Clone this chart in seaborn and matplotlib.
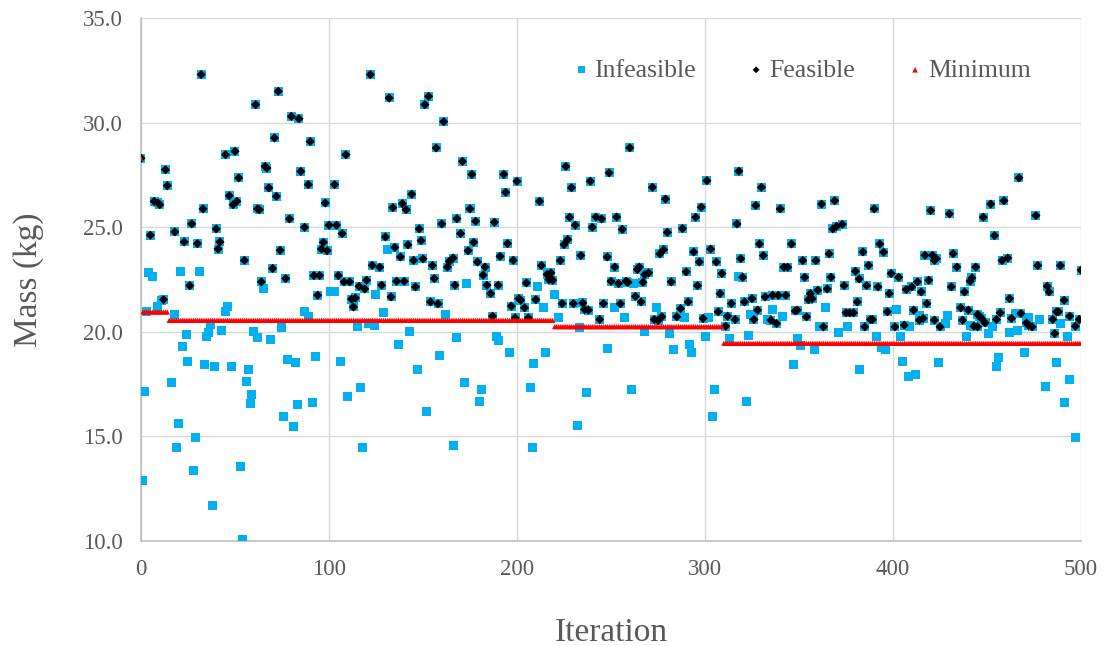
import numpy as np
import pandas as pd
import matplotlib
matplotlib.use("Agg")
import matplotlib.pyplot as plt
import seaborn as sns

# feasible designs (iteration, mass in kg)
feas_iter = [0, 32, 61, 45, 50, 13, 14, 52, 7, 9, 10, 47, 49, 51, 33, 62, 27, 5, 18, 40, 23, 30, 42, 41, 55, 26, 12,
             122, 73, 80, 84, 71, 90, 109, 66, 67, 85, 89, 103, 68, 72, 63, 98, 79, 87, 100, 104, 107, 97, 96, 99,
             74, 70, 77, 64, 92, 95, 105, 94, 108, 111, 116, 119, 120, 123, 127, 112, 114, 113,
             132, 151, 153, 161, 157, 171, 176, 144, 134, 139, 141, 175, 168, 178, 160, 188, 130, 148, 149, 170,
             177, 135, 142, 138, 174, 145, 150, 155, 163, 164, 166, 179, 183, 182, 191, 128, 136, 140, 146, 156,
             167, 184, 186, 190, 133, 154, 158, 187,
             193, 200, 194, 212, 226, 229, 239, 249, 228, 231, 240, 242, 245, 253, 195, 225, 227, 198, 234, 248,
             252, 223, 213, 216, 218, 217, 219, 250, 254, 205, 197, 201, 202, 204, 210, 224, 230, 235, 236, 238,
             246, 199, 206, 244,
             260, 272, 279, 301, 318, 256, 295, 298, 280, 288, 317, 276, 278, 294, 297, 303, 306, 309, 264, 265,
             270, 268, 290, 258, 259, 267, 282, 296, 308, 255, 263, 266, 287, 291, 314, 273, 275, 277, 285, 299,
             307, 312, 311, 316,
             330, 327, 340, 362, 369, 368, 370, 373, 329, 331, 346, 366, 319, 352, 359, 342, 344, 320, 353, 367,
             374, 380, 382, 360, 365, 356, 355, 357, 321, 325, 332, 336, 339, 343, 349, 348, 328, 326, 335, 338,
             354, 363, 375, 377, 379, 381,
             390, 420, 430, 393, 395, 384, 387, 399, 403, 417, 421, 422, 423, 432, 434, 444, 442, 441, 419, 386,
             392, 407, 410, 413, 415, 398, 431, 438, 418, 411, 436, 440, 397, 388, 389, 385, 401, 406, 416, 414,
             422, 425, 437, 445, 446,
             467, 452, 459, 448, 476, 454, 458, 461, 477, 489, 500, 482, 483, 491, 462, 445, 447, 449, 443, 457,
             455, 463, 468, 471, 472, 474, 485, 487, 488, 494, 499, 497, 486]
feas_mass = [28.3, 32.3, 30.86, 28.47, 28.63, 27.75, 26.99, 27.36, 26.24, 26.16, 26.08, 26.51, 26.08, 26.24, 25.88,
             25.88, 25.16, 24.62, 24.78, 24.92, 24.30, 24.22, 24.30, 23.96, 23.42, 22.21, 21.54,
             32.3, 31.5, 30.3, 30.19, 29.27, 29.1, 28.47, 27.91, 27.83, 27.67, 27.04, 27.04, 26.88, 26.48, 25.84,
             26.16, 25.4, 25.0, 25.1, 25.1, 24.7, 24.28, 23.96, 23.88, 23.9, 23.03, 22.55, 22.39, 22.69, 22.69,
             22.69, 21.75, 22.39, 22.39, 22.18, 22.05, 22.47, 23.18, 23.09, 21.57, 21.62, 21.19,
             31.18, 30.86, 31.26, 30.05, 28.79, 28.15, 27.53, 26.58, 25.94, 26.13, 25.84, 25.88, 25.41, 25.29,
             25.16, 25.24, 24.54, 24.92, 24.36, 24.7, 24.28, 24.04, 24.16, 23.58, 23.88, 23.42, 23.49, 23.17,
             23.1, 23.37, 23.53, 23.34, 23.1, 22.71, 23.61, 22.23, 22.42, 22.42, 22.15, 22.55, 22.23, 22.23,
             21.83, 22.23, 21.67, 21.43, 21.34, 20.75,
             27.53, 27.2, 26.67, 26.24, 27.91, 26.89, 27.2, 27.6, 25.48, 25.1, 25.0, 25.49, 25.4, 25.49, 24.22,
             24.17, 24.41, 23.42, 23.65, 23.58, 23.1, 23.41, 23.17, 22.74, 22.82, 22.5, 22.47, 22.42, 22.31,
             22.34, 21.23, 21.59, 21.51, 21.15, 21.54, 21.35, 21.35, 21.38, 21.07, 21.04, 21.35, 20.67, 20.67,
             20.59,
             28.8, 26.91, 26.35, 27.23, 27.68, 24.9, 25.48, 25.96, 24.76, 24.94, 25.16, 23.73, 23.93, 23.82,
             23.34, 23.96, 23.34, 22.79, 22.98, 23.1, 22.82, 22.74, 22.87, 22.42, 22.37, 22.37, 22.39, 22.21,
             21.83, 21.34, 21.7, 21.43, 21.11, 21.43, 21.35, 20.59, 20.54, 20.72, 20.72, 20.64, 20.96, 20.75,
             20.27, 20.59,
             26.91, 26.04, 25.88, 26.11, 26.27, 24.92, 25.05, 25.14, 24.2, 23.65, 24.2, 23.73, 23.5, 23.41,
             23.41, 23.09, 23.09, 22.61, 22.61, 22.61, 22.21, 22.9, 22.53, 21.99, 22.05, 21.83, 21.54, 21.58,
             21.43, 21.59, 21.67, 21.75, 21.75, 21.75, 21.04, 21.0, 21.04, 20.59, 20.56, 20.4, 20.72, 20.24,
             20.91, 20.91, 20.91, 21.43,
             25.88, 25.8, 25.64, 24.2, 23.81, 23.82, 23.18, 22.79, 22.61, 23.66, 23.66, 23.42, 23.5, 23.74,
             23.1, 23.1, 22.58, 22.42, 22.47, 22.21, 22.15, 22.02, 22.15, 22.39, 21.91, 21.83, 22.15, 21.91,
             21.35, 21.04, 21.15, 21.04, 20.96, 20.59, 20.59, 20.24, 20.24, 20.32, 20.64, 20.56, 20.56, 20.24,
             20.56, 20.24, 20.75,
             27.36, 26.11, 26.27, 25.48, 25.56, 24.6, 23.41, 23.53, 23.17, 23.17, 22.95, 22.18, 21.91, 21.51,
             21.59, 20.83, 20.64, 20.43, 20.27, 20.91, 20.59, 20.64, 20.88, 20.43, 20.32, 20.24, 20.59, 20.96,
             20.96, 20.75, 20.59, 20.27, 19.92]

# infeasible designs
infeas_iter = [3, 4, 6, 21, 31, 9, 11, 18, 45, 46, 37, 35, 36, 24, 43, 60, 62, 22, 25, 34, 39, 48, 57, 56, 16, 2,
               59, 58, 20, 29, 19, 53, 28, 1, 38, 54,
               65, 101, 103, 87, 89, 125, 69, 75, 115, 121, 124, 78, 82, 93, 106, 117, 110, 83, 91, 76, 81, 118,
               131, 173, 129, 162, 143, 137, 168, 189, 190, 159, 147, 172, 181, 180, 152, 166,
               211, 220, 214, 252, 222, 196, 215, 248, 209, 207, 237, 232, 208, 233,
               262, 318, 257, 274, 289, 302, 268, 281, 300, 313, 283, 292, 293, 261, 305, 304,
               324, 336, 333, 341, 364, 361, 376, 371, 323, 349, 351, 358, 347, 382, 322,
               402, 414, 429, 428, 441, 409, 391, 404, 439, 394, 396, 405, 424, 408, 412,
               451, 453, 462, 466, 465, 472, 478, 489, 493, 470, 456, 455, 487, 481, 494, 491, 497]
infeas_mass = [20.95, 22.85, 22.63, 22.9, 22.9, 21.23, 21.5, 20.83, 20.99, 21.23, 20.35, 19.79, 19.95, 19.86,
               20.08, 20.03, 19.71, 19.32, 18.6, 18.44, 18.36, 18.36, 18.2, 17.64, 17.6, 17.17, 17.0, 16.56,
               15.6, 14.95, 14.49, 13.54, 13.38, 12.9, 11.7, 10.08,
               22.05, 21.91, 21.94, 20.96, 20.75, 21.78, 19.62, 20.19, 20.27, 20.4, 20.32, 18.68, 18.52, 18.84,
               18.6, 17.33, 16.93, 16.53, 16.61, 15.97, 15.49, 14.49,
               23.96, 22.31, 20.91, 20.83, 20.0, 19.4, 19.71, 19.79, 19.6, 18.89, 18.2, 17.6, 17.25, 16.69,
               16.21, 14.57,
               22.18, 21.77, 21.15, 21.15, 20.7, 19.0, 19.0, 19.22, 18.5, 17.33, 17.12, 15.53, 14.49, 20.19,
               22.31, 22.63, 20.67, 21.15, 20.67, 20.67, 20.03, 19.9, 19.79, 19.67, 19.16, 19.38, 19.0, 17.25,
               17.25, 15.97,
               20.83, 21.07, 20.59, 20.75, 21.15, 20.27, 20.27, 19.95, 19.82, 19.67, 19.36, 19.16, 18.44, 18.2,
               16.69,
               21.07, 20.8, 20.8, 20.4, 20.32, 20.24, 19.79, 19.79, 19.79, 19.24, 19.16, 18.6, 18.52, 17.88,
               17.96,
               19.92, 20.27, 19.98, 20.08, 20.88, 20.7, 20.59, 20.4, 19.79, 19.0, 18.76, 18.36, 18.52, 17.4,
               17.72, 16.61, 14.97]

# running minimum: first iteration of each level and its value
min_start = [0, 1, 15, 220, 310]
min_level = [28.3, 20.95, 20.55, 20.25, 19.45]

iters = np.arange(0, 501)
min_vals = np.array(min_level)[np.searchsorted(min_start, iters, side="right") - 1]

df_all = pd.DataFrame({"Iteration": infeas_iter + feas_iter, "Mass": infeas_mass + feas_mass})
df_feas = pd.DataFrame({"Iteration": feas_iter, "Mass": feas_mass})
df_min = pd.DataFrame({"Iteration": iters, "Mass": min_vals})

sns.set_style("white")
plt.rcParams["font.family"] = ["Liberation Serif", "DejaVu Serif"]
grey = "#595959"

fig = plt.figure(figsize=(11.04, 6.46), dpi=100)
ax = fig.add_axes([0.1277, 0.1625, 0.8515, 0.8095])

# Excel style: every design is a blue square, feasible ones get a black diamond on top
sns.scatterplot(data=df_all, x="Iteration", y="Mass", marker="s", s=42, color="#00b0f0",
                edgecolor="none", linewidth=0, ax=ax, label="Infeasible", zorder=3)
sns.scatterplot(data=df_feas, x="Iteration", y="Mass", marker="D", s=22, color="black",
                edgecolor="none", linewidth=0, ax=ax, label="Feasible", zorder=4)
sns.scatterplot(data=df_min, x="Iteration", y="Mass", marker="^", s=14, color="#ff0000",
                edgecolor="none", linewidth=0, ax=ax, label="Minimum", zorder=5)

ax.set_xlim(0, 500)
ax.set_ylim(10, 35)
ax.set_xticks(range(0, 501, 100))
ax.set_yticks(np.arange(10, 35.1, 5))
ax.set_yticklabels([f"{v:.1f}" for v in np.arange(10, 35.1, 5)])
ax.grid(True, color="#d9d9d9", linewidth=1)
ax.set_axisbelow(True)
for side in ["top", "right"]:
    ax.spines[side].set_visible(False)
for side in ["left", "bottom"]:
    ax.spines[side].set_color("#bfbfbf")
    ax.spines[side].set_linewidth(1.2)
ax.tick_params(axis="both", length=0, labelsize=16.5, colors=grey)
ax.tick_params(axis="x", pad=13)
ax.tick_params(axis="y", pad=13)

ax.set_xlabel("Iteration", fontsize=24, color=grey, labelpad=27)
ax.set_ylabel("Mass (kg)", fontsize=24, color=grey, labelpad=28)

leg = ax.legend(loc="center", bbox_to_anchor=(0.704, 0.9006), ncol=3, frameon=False,
                fontsize=18.5, columnspacing=2.1, handlelength=0.5, handletextpad=0.25)
for t in leg.get_texts():
    t.set_color(grey)
for h, sz in zip(leg.legend_handles, [25, 12, 16]):
    h.set_sizes([sz])

fig.savefig("out.png", dpi=100)
